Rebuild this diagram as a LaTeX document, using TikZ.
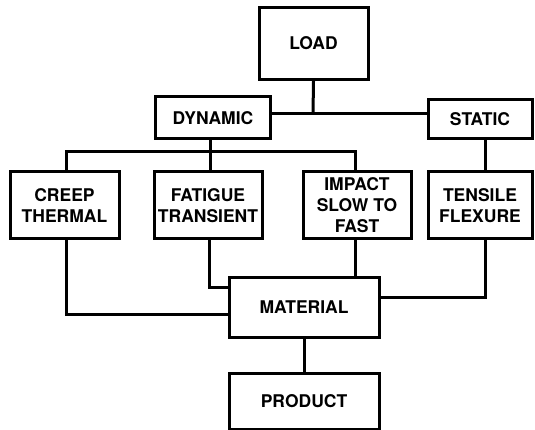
\documentclass[tikz,border=0pt]{standalone}
\usepackage{fontspec}
\setmainfont{TeX Gyre Heros}
\begin{document}
\begin{tikzpicture}[x=1pt,y=-1pt,
  box/.style={draw=black, line width=3pt, rectangle, inner sep=0pt, align=center,
    font=\bfseries\fontsize{17.5}{21}\selectfont},
  link/.style={draw=black, line width=3pt}]
\useasboundingbox[fill=white] (0,0) rectangle (535,430);
\node[box, minimum width=109pt, minimum height=72pt] (load) at (313.5,43.5) {LOAD};
\node[box, minimum width=115pt, minimum height=42pt] (dyn) at (213,118) {DYNAMIC};
\node[box, minimum width=104pt, minimum height=39pt] (stat) at (480,119.5) {STATIC};
\node[box, minimum width=109pt, minimum height=67pt] (creep) at (64.5,205.5) {CREEP\\THERMAL};
\node[box, minimum width=108pt, minimum height=67pt] (fat) at (208,205.5) {FATIGUE\\TRANSIENT};
\node[box, minimum width=108pt, minimum height=67pt] (imp) at (357,205.5) {IMPACT\\SLOW TO\\FAST};
\node[box, minimum width=104pt, minimum height=67pt] (tens) at (480,205.5) {TENSILE\\FLEXURE};
\node[box, minimum width=150pt, minimum height=60pt] (mat) at (304,307) {MATERIAL};
\node[box, minimum width=150pt, minimum height=56pt] (prod) at (304,401) {PRODUCT};
\coordinate (j1) at (313,114);
\coordinate (bus) at (210,152);
\draw[link] (load.south) -- (j1);
\draw[link] (dyn.east |- j1) -- (stat.west |- j1);
\draw[link] (fat.north -| bus) -- (bus) -- (bus |- dyn.south);
\draw[link] ([xshift=1.5pt]creep.north) |- (bus) -| ([xshift=-2pt]imp.north);
\draw[link] ([xshift=5pt]tens.north) -- ([xshift=5pt]tens.north |- stat.south);
\draw[link] ([xshift=1.5pt]creep.south) |- ([yshift=-7pt]mat.west);
\draw[link] ([xshift=1pt]fat.south) |- ([yshift=20pt]mat.west);
\draw[link] ([xshift=-2pt]imp.south) -- ([xshift=-2pt]imp.south |- mat.north);
\draw[link] ([xshift=5pt]tens.south) |- ([yshift=10pt]mat.east);
\draw[link] (mat.south) -- (prod.north);
\end{tikzpicture}
\end{document}
